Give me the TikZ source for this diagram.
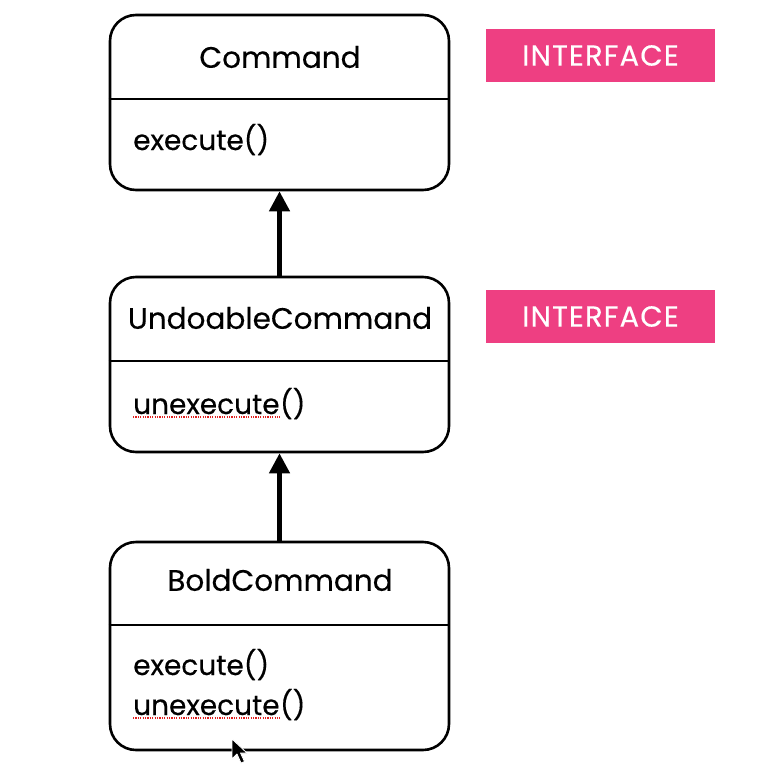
\documentclass[tikz,border=0pt]{standalone}
\usepackage{fontspec}
\setmainfont{Poppins}
\newfontfamily\umlfont{Poppins}[BoldFont=Poppins,BoldFeatures={FakeBold=0.35}]
\usetikzlibrary{arrows.meta,calc}
\definecolor{tagpink}{HTML}{EE3F82}
\definecolor{spellred}{HTML}{E02020}
\begin{document}
\begin{tikzpicture}[x=1pt,y=-1pt,
  classbox/.style={draw=black,line width=2.6pt,rounded corners=26pt,
    minimum width=339pt,inner sep=0pt},
  divider/.style={draw=black,line width=2.2pt},
  title/.style={inner sep=0pt,font=\umlfont\bfseries\fontsize{29.5}{33}\selectfont},
  method/.style={inner sep=0pt,anchor=base west,font=\umlfont\bfseries\fontsize{28}{32}\selectfont},
  tag/.style={fill=tagpink,text=white,minimum width=229pt,minimum height=53pt,
    inner sep=0pt,font=\umlfont\bfseries\fontsize{29}{33}\selectfont},
  inherit/.style={line width=4.5pt,-{Triangle[length=20pt,width=20pt]}},
  spell/.style={draw=spellred,line width=1.4pt,dash pattern=on 1.2pt off 1.2pt}]
\useasboundingbox (0,0) rectangle (770,776);
\fill[white] (0,0) rectangle (770,776);

% Command
\node[classbox,minimum height=175pt] (cmd) at (279.5,102.5) {};
\draw[divider] (cmd.west |- 0,99) -- (cmd.east |- 0,99);
\node[title] (cmdT) at (280,57) {Command};
\node[method] (cmdM1) at (133,150) {execute()};

% UndoableCommand
\node[classbox,minimum height=175pt] (undo) at (279.5,364.5) {};
\draw[divider] (undo.west |- 0,361) -- (undo.east |- 0,361);
\node[title] (undoT) at (280,318) {UndoableCommand};
\node[method] (undoW) at (133,414) {unexecute};
\node[method] (undoP) at (undoW.base east) {()};
\draw[spell] ($(undoW.base west)+(0,3)$) -- ($(undoW.base east)+(0,3)$);

% BoldCommand
\node[classbox,minimum height=208pt] (bold) at (279.5,646) {};
\draw[divider] (bold.west |- 0,625) -- (bold.east |- 0,625);
\node[title] (boldT) at (280,580) {BoldCommand};
\node[method] (boldM1) at (133,675) {execute()};
\node[method] (boldW) at (133,715) {unexecute};
\node[method] (boldP) at (boldW.base east) {()};
\draw[spell] ($(boldW.base west)+(0,3)$) -- ($(boldW.base east)+(0,3)$);

% stereotype tags
\node[tag] (tag1) at (600.5,55.5) {\addfontfeatures{LetterSpace=4}INTERFACE};
\node[tag] (tag2) at (600.5,316.5) {\addfontfeatures{LetterSpace=4}INTERFACE};

% generalisation arrows
\draw[inherit] (undo.north) -- (cmd.south);
\draw[inherit] (bold.north) -- (undo.south);

% mouse pointer
\fill[black,draw=white,line width=0.8pt,line join=round]
  (232,739) -- (232,759) -- (237,754) -- (241,763) -- (244.5,761.5)
  -- (240.5,753) -- (247,753) -- cycle;
\end{tikzpicture}
\end{document}
